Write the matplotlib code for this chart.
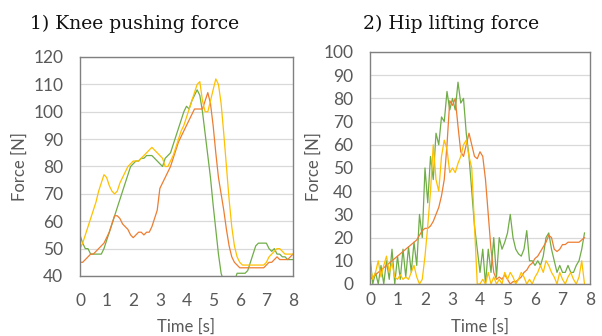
import numpy as np
import matplotlib
matplotlib.use("Agg")
import matplotlib.pyplot as plt

# ---------------- data ----------------
t_knee = [round(0.1 * i, 1) for i in range(81)]
knee_green = [55, 52, 50, 50, 48, 48, 48, 48, 48, 50,
              53, 56, 59, 62, 65, 68, 71, 74, 77, 80,
              81, 82, 82, 83, 83, 84, 84, 84, 83, 82,
              81, 80, 83, 84, 85, 88, 91, 94, 97, 100,
              102, 101, 104, 106, 108, 106, 100, 92, 84, 76,
              66, 57, 48, 41, 38, 38, 38, 38, 38, 41,
              41, 41, 41, 42, 45, 48, 51, 52, 52, 52,
              52, 50, 49, 50, 48, 48, 47, 47, 46, 46, 46]
knee_orange = [45, 45, 46, 47, 48, 48, 49, 50, 51, 52,
               54, 56, 59, 62, 62, 61, 59, 58, 57, 55,
               54, 55, 56, 56, 55, 56, 56, 58, 61, 64,
               72, 74, 76, 78, 80, 83, 86, 89, 91, 93,
               95, 97, 99, 101, 101, 101, 101, 104, 107, 103,
               95, 85, 76, 70, 64, 57, 51, 47, 45, 44,
               43, 43, 43, 43, 43, 43, 43, 43, 43, 43,
               44, 45, 45, 46, 47, 46, 46, 46, 46, 47, 48]
knee_yellow = [50, 52, 55, 58, 61, 64, 67, 71, 74, 77,
               76, 73, 71, 70, 71, 74, 76, 78, 80, 81,
               82, 82, 82, 83, 84, 85, 86, 87, 86, 85,
               84, 83, 80, 80, 82, 84, 87, 90, 93, 95,
               98, 101, 104, 107, 110, 111, 104, 100, 100, 104,
               108, 112, 110, 103, 92, 80, 68, 58, 51, 47,
               45, 44, 44, 44, 44, 44, 44, 44, 44, 44,
               45, 47, 48, 49, 50, 50, 49, 48, 48, 48, 48]

t_hip = [round(0.1 * i, 1) for i in range(79)]
hip_green = [12, 0, 5, 0, 8, 0, 10, 2, 15, 0,
             12, 2, 15, 3, 16, 5, 18, 8, 30, 20,
             50, 35, 55, 45, 65, 60, 72, 70, 83, 75,
             80, 75, 87, 78, 80, 65, 55, 40, 25, 15,
             5, 15, 0, 15, 5, 20, 3, 20, 15, 18,
             22, 30, 20, 15, 13, 12, 15, 23, 10, 10,
             8, 10, 8, 12, 20, 22, 15, 10, 5, 8,
             5, 5, 8, 5, 5, 8, 10, 15, 22]
hip_orange = [2, 3, 4, 5, 6, 7, 8, 9, 10, 11,
              12, 13, 14, 15, 16, 17, 18, 19, 21, 23,
              24, 24, 25, 27, 30, 33, 38, 45, 60, 79,
              77, 80, 68, 57, 55, 60, 65, 60, 55, 54,
              57, 55, 45, 30, 15, 5, 2, 3, 2, 4,
              2, 0, 1, 1, 2, 3, 5, 6, 8, 9,
              11, 12, 14, 16, 18, 21, 20, 15, 14, 15,
              17, 17, 18, 18, 18, 18, 18, 19, 20]
hip_yellow = [8, 2, 5, 10, 3, 8, 12, 5, 9, 3,
              2, 4, 2, 3, 2, 5, 8, 3, 0, 2,
              12, 25, 40, 60, 45, 40, 55, 62, 58, 48,
              50, 48, 52, 55, 60, 62, 55, 50, 25, 0,
              0, 2, 0, 5, 0, 3, 0, 2, 0, 5,
              2, 5, 3, 0, 2, 5, 3, 0, 2, 0,
              3, 5, 8, 5, 10, 8, 5, 3, 0, 5,
              2, 0, 3, 5, 2, 0, 3, 10, 0]

knee_yticks = [40, 50, 60, 70, 80, 90, 100, 110, 120]
hip_yticks = [0, 10, 20, 30, 40, 50, 60, 70, 80, 90, 100]
xticks = [0, 1, 2, 3, 4, 5, 6, 7, 8]

GREEN = "#70AD47"
ORANGE = "#ED7D31"
YELLOW = "#FFC000"
TICK_C = "#595959"
GRID_C = "#D9D9D9"
SPINE_C = "#808080"

W, H = 602, 336
fig = plt.figure(figsize=(W / 100, H / 100), dpi=100)
fig.patch.set_facecolor("white")


def px_axes(l, t, r, b):
    return fig.add_axes([l / W, 1 - b / H, (r - l) / W, (b - t) / H])


def style(ax, yticks, xpad, ypad):
    ax.set_xlim(0, 8)
    ax.set_ylim(yticks[0], yticks[-1])
    ax.set_xticks(xticks)
    ax.set_yticks(yticks)
    ax.grid(axis="y", color=GRID_C, linewidth=0.9)
    ax.set_axisbelow(True)
    for s in ax.spines.values():
        s.set_color(SPINE_C)
        s.set_linewidth(1.0)
    ax.tick_params(length=0, labelsize=12.5, labelcolor=TICK_C)
    ax.tick_params(axis="x", pad=xpad)
    ax.tick_params(axis="y", pad=ypad)
    for lab in ax.get_xticklabels() + ax.get_yticklabels():
        lab.set_fontfamily("Lato")


ax1 = px_axes(80, 57, 293, 276)
ax1.plot(t_knee, knee_green, color=GREEN, lw=0.9)
ax1.plot(t_knee, knee_orange, color=ORANGE, lw=0.9)
ax1.plot(t_knee, knee_yellow, color=YELLOW, lw=0.9)
style(ax1, knee_yticks, 12, 12)

ax2 = px_axes(370, 52, 590, 284)
ax2.plot(t_hip, hip_green, color=GREEN, lw=0.9)
ax2.plot(t_hip, hip_orange, color=ORANGE, lw=0.9)
ax2.plot(t_hip, hip_yellow, color=YELLOW, lw=0.9)
style(ax2, hip_yticks, 6, 12)

fig.text(30 / W, 1 - 24 / H, "1) Knee pushing force", fontsize=13.5,
         family="DejaVu Serif", ha="left", va="center", color="#111111")
fig.text(363 / W, 1 - 24 / H, "2) Hip lifting force", fontsize=13.5,
         family="DejaVu Serif", ha="left", va="center", color="#111111")

fig.text(20 / W, 1 - 167 / H, "Force [N]", rotation=90, fontsize=12,
         family="Lato", color=TICK_C, ha="center", va="center")
fig.text(314 / W, 1 - 167 / H, "Force [N]", rotation=90, fontsize=12,
         family="Lato", color=TICK_C, ha="center", va="center")
fig.text(186 / W, 1 - 327 / H, "Time [s]", fontsize=12,
         family="Lato", color=TICK_C, ha="center", va="center")
fig.text(480 / W, 1 - 327 / H, "Time [s]", fontsize=12,
         family="Lato", color=TICK_C, ha="center", va="center")

fig.savefig("out.png", dpi=100, facecolor="white")
